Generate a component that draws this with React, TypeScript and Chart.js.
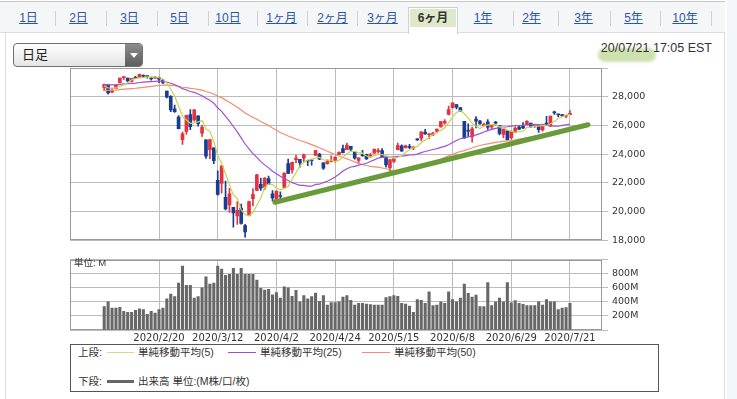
import React, { useEffect, useRef } from 'react';
import { Chart, registerables } from 'chart.js';
Chart.register(...registerables);

// ---- data ----
const dates: string[] = [
  '2020/1/30', '2020/1/31',
  '2020/2/3', '2020/2/4', '2020/2/5', '2020/2/6', '2020/2/7', '2020/2/10', '2020/2/11', '2020/2/12', '2020/2/13', '2020/2/14',
  '2020/2/18', '2020/2/19', '2020/2/20', '2020/2/21', '2020/2/24', '2020/2/25', '2020/2/26', '2020/2/27', '2020/2/28',
  '2020/3/2', '2020/3/3', '2020/3/4', '2020/3/5', '2020/3/6', '2020/3/9', '2020/3/10', '2020/3/11', '2020/3/12', '2020/3/13',
  '2020/3/16', '2020/3/17', '2020/3/18', '2020/3/19', '2020/3/20', '2020/3/23', '2020/3/24', '2020/3/25', '2020/3/26', '2020/3/27',
  '2020/3/30', '2020/3/31',
  '2020/4/1', '2020/4/2', '2020/4/3', '2020/4/6', '2020/4/7', '2020/4/8', '2020/4/9', '2020/4/13', '2020/4/14', '2020/4/15',
  '2020/4/16', '2020/4/17', '2020/4/20', '2020/4/21', '2020/4/22', '2020/4/23', '2020/4/24', '2020/4/27', '2020/4/28', '2020/4/29', '2020/4/30',
  '2020/5/1', '2020/5/4', '2020/5/5', '2020/5/6', '2020/5/7', '2020/5/8', '2020/5/11', '2020/5/12', '2020/5/13', '2020/5/14',
  '2020/5/15', '2020/5/18', '2020/5/19', '2020/5/20', '2020/5/21', '2020/5/22', '2020/5/26', '2020/5/27', '2020/5/28', '2020/5/29',
  '2020/6/1', '2020/6/2', '2020/6/3', '2020/6/4', '2020/6/5', '2020/6/8', '2020/6/9', '2020/6/10', '2020/6/11', '2020/6/12',
  '2020/6/15', '2020/6/16', '2020/6/17', '2020/6/18', '2020/6/19', '2020/6/22', '2020/6/23', '2020/6/24', '2020/6/25', '2020/6/26',
  '2020/6/29', '2020/6/30',
  '2020/7/1', '2020/7/2', '2020/7/6', '2020/7/7', '2020/7/8', '2020/7/9', '2020/7/10', '2020/7/13', '2020/7/14', '2020/7/15',
  '2020/7/16', '2020/7/17', '2020/7/20', '2020/7/21',
];

const opens: number[] = [
  28640, 28813, 28320, 28570, 28970, 29330, 29290, 29060, 29330, 29360,
  29430, 29440, 29280, 29300, 29330, 29160, 28400, 28030, 27160, 26580,
  25000, 25590, 26760, 26380, 26670, 25460, 24990, 24320, 24440, 22180,
  21970, 20990, 20470, 20300, 19700, 20250, 19030, 19720, 20900, 21470,
  21900, 21680, 22300, 21230, 20820, 21100, 21690, 23340, 22900, 23620,
  23640, 23720, 23570, 23560, 23910, 24000, 23400, 23330, 23500, 23560,
  23970, 24390, 24320, 24540, 24120, 23560, 23940, 23990, 23860, 24070,
  24180, 24250, 23800, 23050, 23490, 24320, 24580, 24460, 24520, 24440,
  25010, 25110, 25540, 25350, 25340, 25580, 25890, 26160, 26770, 27230,
  27450, 27250, 26280, 25660, 25200, 26440, 26300, 25990, 26250, 25890,
  26180, 26000, 25380, 25620, 25150, 25510, 25880, 25970, 26060, 26150,
  25950, 26020, 25680, 26170, 25950, 26880, 26740, 26750, 26650, 26750,
];
const highs: number[] = [
  28880, 28871, 28590, 28840, 29290, 29380, 29290, 29280, 29420, 29570,
  29520, 29440, 29340, 29400, 29370, 29190, 28400, 28080, 27420, 26680,
  25540, 26710, 27100, 27100, 26670, 26000, 24990, 25020, 24440, 22840,
  23190, 22130, 21620, 20300, 20700, 20530, 19120, 20740, 21600, 22600,
  22330, 22360, 22480, 21470, 21470, 21370, 22700, 23660, 23440, 23920,
  23640, 24010, 23570, 23660, 24260, 24060, 23410, 23600, 23880, 23830,
  24170, 24630, 24770, 24540, 24120, 23750, 24260, 24000, 24050, 24370,
  24380, 24380, 23820, 23630, 23720, 24770, 24650, 24630, 24680, 24510,
  25090, 25550, 25730, 25430, 25520, 25750, 26270, 26400, 27340, 27580,
  27450, 27250, 26280, 26120, 25880, 26610, 26360, 26170, 26400, 26070,
  26290, 26000, 25750, 25620, 25600, 25900, 26000, 26200, 26330, 26180,
  26080, 26020, 26090, 26640, 26660, 27000, 26780, 26760, 26700, 27030,
];
const lows: number[] = [
  28420, 28170, 28290, 28570, 28960, 29200, 29010, 29030, 29250, 29360,
  29370, 29300, 29150, 29280, 28970, 28900, 27920, 26960, 26900, 25760,
  24680, 25390, 25710, 26290, 25950, 25230, 23710, 23690, 23330, 21150,
  21290, 20120, 19940, 18920, 19100, 19120, 18213, 19720, 20400, 21450,
  21470, 21520, 21880, 20740, 20740, 20860, 21690, 22640, 22680, 23390,
  23090, 23450, 23200, 23240, 23910, 23620, 22940, 23300, 23460, 23450,
  23960, 24080, 24320, 24200, 23650, 23360, 23860, 23640, 23790, 24070,
  24070, 23760, 23090, 22790, 23410, 24300, 24200, 24420, 24380, 24310,
  24950, 24940, 25370, 25070, 25290, 25480, 25880, 26080, 26740, 27200,
  27150, 26950, 25080, 25240, 24840, 25830, 26070, 25940, 25720, 25760,
  26020, 25340, 25140, 24970, 25050, 25470, 25700, 25780, 26030, 25880,
  25860, 25520, 25600, 26050, 25950, 26770, 26590, 26620, 26540, 26750,
];
const closes: number[] = [
  28859, 28256, 28400, 28808, 29290, 29380, 29103, 29277, 29276, 29551,
  29424, 29398, 29232, 29348, 29219, 28992, 27961, 27081, 26957, 25766,
  25409, 26703, 25917, 27091, 26121, 25865, 23851, 25018, 23553, 21200,
  23186, 20189, 21237, 19899, 20087, 19174, 18592, 20705, 21200, 22552,
  21637, 22327, 21917, 20944, 21413, 21053, 22680, 22654, 23434, 23719,
  23390, 23950, 23505, 23538, 24242, 23650, 23019, 23475, 23515, 23775,
  24134, 24101, 24634, 24346, 23724, 23750, 23883, 23664, 23875, 24331,
  24221, 23765, 23248, 23625, 23685, 24597, 24207, 24576, 24474, 24465,
  24995, 25548, 25401, 25383, 25475, 25742, 26270, 26282, 27111, 27572,
  27272, 26990, 25128, 25606, 25763, 26290, 26120, 26080, 25871, 26025,
  26156, 25446, 25745, 25016, 25596, 25813, 25735, 25827, 26287, 25890,
  26067, 25706, 26075, 26086, 26643, 26870, 26735, 26672, 26680, 26840,
];
// closes before the visible window (needed for the moving averages)
const priorCloses: number[] = [
  28036, 28053, 27934, 27766, 27876, 28066, 28121, 28164, 28051,
  27783, 27502, 27649, 27677, 28015, 27909, 27881, 27911, 28132, 28135, 28235,
  28267, 28239, 28377, 28455, 28551, 28515, 28621, 28645, 28462, 28538,
  28868, 28634, 28703, 28583, 28745, 28957, 28823, 28907, 28940, 29030,
  29297, 29348, 29196, 29186, 29160, 28990, 28535, 28723, 28734,
];
// volume in M
const volumes: number[] = [
  333, 400, 311, 311, 324, 267, 253, 253, 280, 302,
  289, 222, 267, 240, 289, 311, 444, 511, 476, 667,
  911, 636, 636, 453, 476, 600, 756, 653, 667, 911,
  867, 778, 791, 876, 791, 876, 791, 791, 791, 711,
  591, 569, 578, 502, 533, 453, 613, 600, 480, 564,
  400, 489, 444, 476, 524, 409, 489, 356, 391, 391,
  400, 467, 489, 422, 356, 378, 378, 369, 360, 356,
  356, 356, 462, 476, 489, 480, 378, 369, 342, 253,
  431, 422, 378, 542, 347, 356, 400, 378, 542, 431,
  400, 453, 653, 520, 467, 498, 333, 333, 676, 347,
  400, 453, 400, 676, 387, 418, 378, 364, 347, 347,
  347, 400, 356, 431, 400, 400, 289, 311, 320, 378,
];
// hand-drawn support line (index, price)
const trendX: number[] = [43.6, 123.6];
const trendY: number[] = [20650, 26050];

const gridIdx: number[] = [14, 29, 44, 59, 74, 89, 104, 119];
const priceTicks = { min: 18000, max: 30000, step: 2000 };
const volTicks = { min: 0, max: 1000, step: 200 };

const tabs: string[] = ['1日', '2日', '3日', '5日', '10日', '1ヶ月', '2ヶ月', '3ヶ月', '6ヶ月', '1年', '2年', '3年', '5年', '10年'];
const tabCenters: number[] = [28.5, 78.5, 129.5, 179.5, 228, 281.5, 332.5, 382.5, 433, 483, 531.5, 583.5, 633.5, 685];
const tabSeps: number[] = [55, 106, 157, 208, 257, 307, 357, 513, 558, 610, 660, 711];
const selectedTab = '6ヶ月';

function sma(n: number): number[] {
  const all = [...priorCloses, ...closes];
  return closes.map((_, i) => {
    const end = priorCloses.length + i;
    let s = 0;
    for (let k = 0; k < n; k++) s += all[end - k];
    return s / n;
  });
}

const XMIN = -8.74;
const XMAX = 127.18;
const GRID = '#bcbcbc';
const FONT = "'DejaVu Sans', sans-serif";
const JP = "'Liberation Sans', 'Noto Sans CJK JP', sans-serif";

const boxPlugin = {
  id: 'box',
  beforeDatasetsDraw(chart: any) {
    const { ctx, chartArea: a } = chart;
    ctx.save();
    ctx.strokeStyle = '#9a9a9a';
    ctx.lineWidth = 1;
    ctx.strokeRect(Math.round(a.left) + 0.5, Math.round(a.top) + 0.5, Math.round(a.right - a.left) - 1, Math.round(a.bottom - a.top) - 1);
    ctx.restore();
  },
};

export default function App() {
  const priceRef = useRef<HTMLCanvasElement>(null);
  const volRef = useRef<HTMLCanvasElement>(null);

  useEffect(() => {
    const upColor = '#e6323f';
    const downColor = '#1c3c92';
    const colors = closes.map((c, i) => (c >= opens[i] ? upColor : downColor));
    const ma5 = sma(5), ma25 = sma(25), ma50 = sma(50);
    const xTicks = (s: any) => { s.ticks = gridIdx.map((v) => ({ value: v })); };

    const c1 = new Chart(priceRef.current!, {
      type: 'line',
      data: {
        datasets: [
          { type: 'line', data: trendX.map((x, i) => ({ x, y: trendY[i] })), borderColor: '#6a9b3b', borderWidth: 5, pointRadius: 0, borderCapStyle: 'round', order: 0 } as any,
          { type: 'line', data: ma5.map((y, i) => ({ x: i, y })), borderColor: '#c4d553', borderWidth: 1.2, pointRadius: 0, order: 1 } as any,
          { type: 'line', data: ma25.map((y, i) => ({ x: i, y })), borderColor: '#a04fd6', borderWidth: 1.2, pointRadius: 0, order: 1 } as any,
          { type: 'line', data: ma50.map((y, i) => ({ x: i, y })), borderColor: '#ef8f6e', borderWidth: 1.2, pointRadius: 0, order: 1 } as any,
          { type: 'bar', data: opens.map((o, i) => ({ x: i, y: [o, closes[i]] })), backgroundColor: colors, barThickness: 3, minBarLength: 1, grouped: false, order: 2 } as any,
          { type: 'bar', data: lows.map((l, i) => ({ x: i, y: [l, highs[i]] })), backgroundColor: colors, barThickness: 1, grouped: false, order: 3 } as any,
        ],
      },
      options: {
        responsive: false,
        animation: false,
        layout: { padding: { left: 70, top: 68, right: 0, bottom: 6 } },
        plugins: { legend: { display: false }, tooltip: { enabled: false } },
        scales: {
          x: {
            type: 'linear', min: XMIN, max: XMAX, offset: false, bounds: 'data',
            afterBuildTicks: xTicks,
            afterFit: (s: any) => { s.height = 0; },
            ticks: { display: false },
            grid: { color: GRID, drawTicks: false, offset: false },
            border: { display: false },
          },
          y: {
            type: 'linear', position: 'right', min: priceTicks.min, max: priceTicks.max,
            afterFit: (s: any) => { s.width = 135; },
            ticks: {
              stepSize: priceTicks.step, padding: 4, autoSkip: false, color: '#333', font: { family: FONT, size: 9.5 },
              callback: (v: any) => (v === priceTicks.max ? '' : Number(v).toLocaleString('en-US')),
            },
            grid: { color: GRID, tickLength: 6, drawTicks: true },
            border: { display: false },
          },
        } as any,
      },
      plugins: [boxPlugin],
    });

    const c2 = new Chart(volRef.current!, {
      type: 'bar',
      data: {
        datasets: [
          { data: volumes.map((v, i) => ({ x: i, y: v })), backgroundColor: '#676767', barThickness: 2.4 } as any,
        ],
      },
      options: {
        responsive: false,
        animation: false,
        layout: { padding: { left: 70, top: 6, right: 0, bottom: 0 } },
        plugins: { legend: { display: false }, tooltip: { enabled: false } },
        scales: {
          x: {
            type: 'linear', min: XMIN, max: XMAX, offset: false, bounds: 'data',
            afterBuildTicks: xTicks,
            afterFit: (s: any) => { s.height = 15; },
            ticks: {
              autoSkip: false, maxRotation: 0, padding: 2, color: '#333', font: { family: FONT, size: 10 },
              callback: (v: any) => dates[v] ?? '',
            },
            grid: { color: GRID, drawTicks: false, offset: false },
            border: { display: false },
          },
          y: {
            type: 'linear', position: 'right', min: volTicks.min, max: volTicks.max, beginAtZero: true,
            afterFit: (s: any) => { s.width = 135; },
            ticks: {
              stepSize: volTicks.step, padding: 4, autoSkip: false, color: '#333', font: { family: FONT, size: 9.5 },
              callback: (v: any) => (v === volTicks.min || v === volTicks.max ? '' : v + 'M'),
            },
            grid: { color: GRID, tickLength: 6, drawTicks: true },
            border: { display: false },
          },
        } as any,
      },
      plugins: [boxPlugin],
    });

    return () => { c1.destroy(); c2.destroy(); };
  }, []);

  const abs = (s: React.CSSProperties): React.CSSProperties => ({ position: 'absolute', ...s });

  return (
    <div style={abs({ left: 0, top: 0, width: 737, height: 399, overflow: 'hidden', background: '#fff', fontFamily: JP })}>
      {/* tab bar */}
      <div style={abs({ left: 0, top: 1, width: 725, height: 32, background: '#f5f6f8', borderTop: '1px solid #c8c8c8', borderBottom: '1px solid #dcdcdc', boxSizing: 'border-box' })} />
      {/* panel */}
      <div style={abs({ left: 5, top: 33, width: 720, height: 380, background: '#fff', borderLeft: '1px solid #dcdcdc', borderRight: '1px solid #dcdcdc', boxSizing: 'border-box' })} />
      <div style={abs({ left: 727, top: 0, width: 10, height: 399, background: '#f4f6f9' })} />
      {tabSeps.map((x, i) => (
        <div key={'s' + i} style={abs({ left: x, top: 11, width: 1, height: 15, background: '#d2d2d2' })} />
      ))}
      <div style={abs({ left: 408, top: 7, width: 50, height: 27, background: '#fff', border: '1px solid #d0d0d0', borderBottom: 'none', boxSizing: 'border-box' })} />
      <div style={abs({ left: 410, top: 9, width: 46, height: 18, background: '#dde9c9' })} />
      {tabs.map((t, i) => (
        <div key={t} style={abs({
          left: tabCenters[i] - 30, top: 10, width: 60, textAlign: 'center', fontSize: 12, lineHeight: '17px',
          color: t === selectedTab ? '#333' : '#2b56a8', fontWeight: t === selectedTab ? 'bold' : 'normal',
          textDecoration: t === selectedTab ? 'none' : 'underline',
        })}>{t}</div>
      ))}

      {/* dropdown */}
      <div style={abs({ left: 13, top: 43, width: 130, height: 24, border: '1px solid #707070', borderRadius: 4, background: 'linear-gradient(#ffffff, #e4e4e4)', boxSizing: 'border-box', overflow: 'hidden' })}>
        <div style={abs({ left: 8, top: 0, fontSize: 13, lineHeight: '22px', color: '#222' })}>日足</div>
        <div style={abs({ left: 111, top: 0, width: 18, height: 22, background: 'linear-gradient(#8c8c8c, #5e5e5e)' })}>
          <div style={abs({ left: 5, top: 9, width: 0, height: 0, borderLeft: '4px solid transparent', borderRight: '4px solid transparent', borderTop: '5px solid #fff' })} />
        </div>
      </div>

      {/* timestamp */}
      <div style={abs({ left: 598, top: 48, width: 58, height: 14, background: 'rgba(188,214,150,0.75)', borderRadius: 7, filter: 'blur(1.5px)' })} />
      <div style={abs({ right: 25, top: 40, fontSize: 12.5, lineHeight: '16px', color: '#333', fontFamily: "'Liberation Sans', sans-serif", whiteSpace: 'nowrap' })}>20/07/21 17:05 EST</div>

      {/* charts */}
      <canvas ref={priceRef} width={737} height={250} style={abs({ left: 0, top: 0, width: 737, height: 250 })} />
      <canvas ref={volRef} width={737} height={95} style={abs({ left: 0, top: 250, width: 737, height: 95 })} />
      <div style={abs({ left: 74, top: 257, fontSize: 9.5, lineHeight: '12px', color: '#333' })}>単位: M</div>

      {/* legend */}
      <div style={abs({ left: 70, top: 344, width: 589, height: 48, border: '1px solid #555', boxSizing: 'border-box', background: '#fff' })} />
      <div style={abs({ left: 78, top: 345, fontSize: 10.5, lineHeight: '14px', color: '#333' })}>上段:</div>
      <div style={abs({ left: 107, top: 352, width: 27, height: 1, background: '#cfdc86' })} />
      <div style={abs({ left: 138, top: 345, fontSize: 10.5, lineHeight: '14px', color: '#333' })}>単純移動平均(5)</div>
      <div style={abs({ left: 228, top: 352, width: 28, height: 1, background: '#9b4fd0' })} />
      <div style={abs({ left: 260, top: 345, fontSize: 10.5, lineHeight: '14px', color: '#333' })}>単純移動平均(25)</div>
      <div style={abs({ left: 362, top: 352, width: 28, height: 1, background: '#ef8f78' })} />
      <div style={abs({ left: 394, top: 345, fontSize: 10.5, lineHeight: '14px', color: '#333' })}>単純移動平均(50)</div>
      <div style={abs({ left: 78, top: 374, fontSize: 10.5, lineHeight: '14px', color: '#333' })}>下段:</div>
      <div style={abs({ left: 107, top: 380, width: 27, height: 3, background: '#666' })} />
      <div style={abs({ left: 138, top: 374, fontSize: 10.5, lineHeight: '14px', color: '#333' })}>出来高 単位:(M株/口/枚)</div>
    </div>
  );
}
